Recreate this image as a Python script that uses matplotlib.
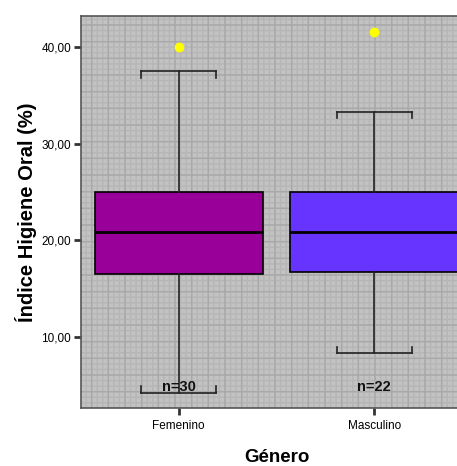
import matplotlib
matplotlib.use("Agg")
import matplotlib.pyplot as plt
from matplotlib.patches import Rectangle

plt.rcParams['font.family'] = ['Liberation Sans', 'DejaVu Sans']

# box statistics
groups = ['Femenino', 'Masculino']
q1 = [16.5, 16.7]
medians = [20.9, 20.9]
q3 = [25.0, 25.0]
whis_low = [4.2, 8.3]
whis_high = [37.5, 33.3]
outliers = [[40.0], [41.5]]
counts = [30, 22]
colors = ['#990099', '#6633ff']

stats = []
for i in range(len(groups)):
    stats.append({'label': groups[i], 'q1': q1[i], 'med': medians[i], 'q3': q3[i],
                  'whislo': whis_low[i], 'whishi': whis_high[i], 'fliers': outliers[i]})

fig = plt.figure(figsize=(4.57, 4.66), dpi=100)
ax = fig.add_axes([0.1772, 0.1245, 0.8556, 0.8412])

# textured grey background
ax.set_facecolor('#c2c2c2')
ax.add_patch(Rectangle((0, 0), 1, 1, transform=ax.transAxes, facecolor='none',
                       edgecolor='#b6b6b6', hatch='+++', linewidth=0, zorder=0))
ax.add_patch(Rectangle((0, 0), 1, 1, transform=ax.transAxes, facecolor='none',
                       edgecolor='#a9a9a9', hatch='+', linewidth=0, zorder=0))

bp = ax.bxp(stats, positions=[1, 2], widths=0.857, patch_artist=True,
            showfliers=True,
            boxprops=dict(edgecolor='black', linewidth=1.2),
            medianprops=dict(color='black', linewidth=2),
            whiskerprops=dict(color='#222222', linewidth=1.2),
            capprops=dict(color='#222222', linewidth=1.2),
            flierprops=dict(marker='o', markerfacecolor='#ffff00', markeredgecolor='#ffff00',
                            markersize=6),
            capwidths=0.385, zorder=2)
for patch, c in zip(bp['boxes'], colors):
    patch.set_facecolor(c)

# the end ticks of the caps
for cap in bp['caps']:
    xs = cap.get_xdata()
    y = cap.get_ydata()[0]
    top = y > 20
    dy = -0.7 if top else 0.7
    for x in xs:
        ax.plot([x, x], [y, y + dy], color='#222222', linewidth=1.2, zorder=2)

for i, n in enumerate(counts):
    ax.text(i + 1, 4.8, 'n=%d' % n, ha='center', va='center', fontsize=10.5,
            fontweight='bold', color='#111111', zorder=3)

ax.set_xlim(0.5, 2.5)
ax.set_ylim(2.64, 43.2)
ax.set_yticks([10, 20, 30, 40])
ax.set_yticklabels(['10,00', '20,00', '30,00', '40,00'], fontsize=8.5)
ax.set_xticks([1, 2])
ax.set_xticklabels(groups, fontsize=8.5)
ax.tick_params(axis='y', length=5, width=2, color='#333333', pad=2)
ax.tick_params(axis='x', length=5, width=2, color='#333333', pad=4)

for s in ax.spines.values():
    s.set_color('#555555')
    s.set_linewidth(1.2)

ax.set_ylabel('Índice Higiene Oral (%)', fontsize=14.5, fontweight='bold', labelpad=3)
ax.set_xlabel('Género', fontsize=13.5, fontweight='bold', labelpad=12)

fig.savefig('out.png', dpi=100)
